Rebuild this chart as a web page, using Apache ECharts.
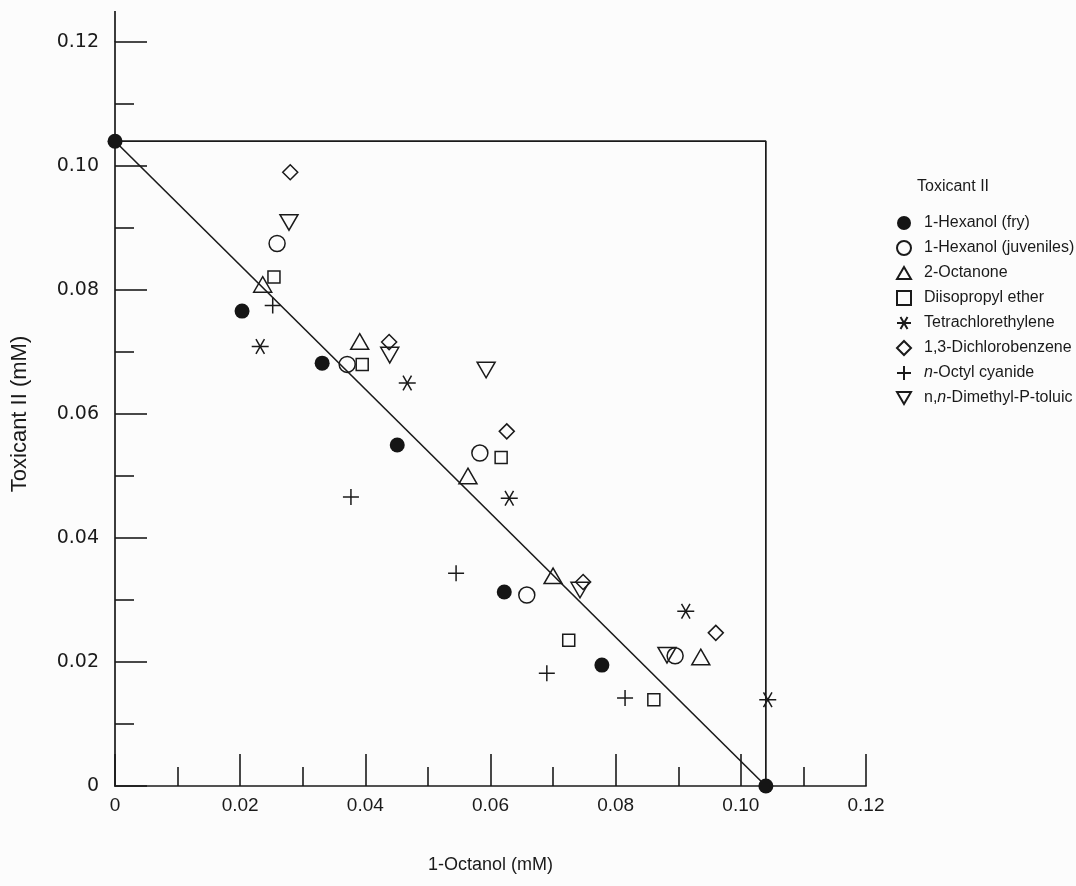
<!DOCTYPE html>
<html>
<head>
<meta charset="utf-8">
<title>Toxicant II vs 1-Octanol</title>
<script src="https://cdn.jsdelivr.net/npm/echarts@6/dist/echarts.min.js"></script>
<style>
  html, body { margin: 0; padding: 0; background: #fcfcfc; }
  #chart { width: 1076px; height: 886px; }
</style>
</head>
<body>
<div id="chart"></div>
<script>
'use strict';

// [1-Octanol mM, Toxicant II mM]
var hexanolFry = [[0.0203, 0.0766], [0.0331, 0.0682], [0.0451, 0.0550], [0.0622, 0.0313], [0.0778, 0.0195]];
var hexanolJuveniles = [[0.0259, 0.0875], [0.0371, 0.0680], [0.0583, 0.0537], [0.0658, 0.0308], [0.0895, 0.0210]];
var octanone = [[0.0236, 0.0809], [0.0391, 0.0717], [0.0564, 0.0500], [0.0700, 0.0339], [0.0936, 0.0208]];
var diisopropylEther = [[0.0254, 0.0821], [0.0395, 0.0680], [0.0617, 0.0530], [0.0725, 0.0235], [0.0861, 0.0139]];
var tetrachlorethylene = [[0.0232, 0.0709], [0.0467, 0.0650], [0.0630, 0.0464], [0.0912, 0.0282], [0.1043, 0.0139]];
var dichlorobenzene = [[0.0280, 0.0990], [0.0438, 0.0716], [0.0626, 0.0572], [0.0748, 0.0329], [0.0960, 0.0247]];
var octylCyanide = [[0.0252, 0.0775], [0.0377, 0.0466], [0.0545, 0.0343], [0.0690, 0.0182], [0.0815, 0.0142]];
var dimethylToluic = [[0.0278, 0.0909], [0.0439, 0.0695], [0.0593, 0.0671], [0.0743, 0.0316], [0.0882, 0.0211]];

// additivity line and its box
var isobole = [[0, 0.104], [0.104, 0]];
var isoboleBox = [[0, 0.104], [0.104, 0.104], [0.104, 0]];

var seriesNames = [
    '1-Hexanol (fry)', '1-Hexanol (juveniles)', '2-Octanone', 'Diisopropyl ether',
    'Tetrachlorethylene', '1,3-Dichlorobenzene', 'n-Octyl cyanide', 'n,n-Dimethyl-P-toluic'
];

var ink = '#1a1a1a';
var font = '"Liberation Sans", Arial, Helvetica, sans-serif';
var hollow = 'rgba(0,0,0,0)';

var myChart = echarts.init(document.getElementById('chart'));

function scatter(name, data, symbol, size, filled) {
    return {
        name: name,
        type: 'scatter',
        data: data,
        symbol: symbol,
        symbolSize: size,
        symbolKeepAspect: true,
        z: 5,
        itemStyle: {
            color: filled ? '#151515' : hollow,
            borderColor: ink,
            borderWidth: filled ? 0 : 1.5,
            opacity: 1
        }
    };
}

function axisLabelFmt(v) {
    if (v === 0) return '0';
    return v.toFixed(2);
}

var option = {
    backgroundColor: '#fcfcfc',
    animation: false,
    title: {
        text: 'Toxicant II',
        left: 912,
        top: 174,
        textStyle: { fontFamily: font, fontSize: 16, fontWeight: 'normal', color: ink }
    },
    legend: {
        orient: 'vertical',
        left: 891,
        top: 209,
        itemWidth: 14,
        itemHeight: 14,
        itemGap: 7,
        data: seriesNames,
        formatter: function (name) {
            if (name === 'n-Octyl cyanide') return '{i|n}-Octyl cyanide';
            if (name === 'n,n-Dimethyl-P-toluic') return 'n,{i|n}-Dimethyl-P-toluic';
            return name;
        },
        textStyle: {
            fontFamily: font, fontSize: 16, color: ink, lineHeight: 18, padding: [0, 0, 0, 8],
            rich: { i: { fontStyle: 'italic', fontFamily: font, fontSize: 16, color: ink } }
        }
    },
    grid: {
        left: 115,
        right: 210,
        top: 42,
        bottom: 100
    },
    xAxis: {
        type: 'value',
        min: 0,
        max: 0.12,
        interval: 0.02,
        name: '1-Octanol (mM)',
        nameLocation: 'middle',
        nameGap: 70,
        nameTextStyle: { fontFamily: font, fontSize: 18, color: ink },
        axisLine: { lineStyle: { color: ink, width: 1.7 } },
        axisTick: { inside: true, length: 32, lineStyle: { color: ink, width: 1.6 } },
        minorTick: { show: true, splitNumber: 2, length: 19, lineStyle: { color: ink, width: 1.6 } },
        splitLine: { show: false },
        axisLabel: { formatter: axisLabelFmt, margin: 10, fontFamily: font, fontSize: 19, color: ink }
    },
    yAxis: {
        type: 'value',
        min: 0,
        max: 0.12,
        interval: 0.02,
        name: 'Toxicant II (mM)',
        nameLocation: 'middle',
        nameGap: 84,
        nameTextStyle: { fontFamily: font, fontSize: 22, color: ink },
        axisLine: { lineStyle: { color: ink, width: 1.7 } },
        axisTick: { inside: true, length: 32, lineStyle: { color: ink, width: 1.6 } },
        minorTick: { show: true, splitNumber: 2, length: 19, lineStyle: { color: ink, width: 1.6 } },
        splitLine: { show: false },
        axisLabel: { formatter: axisLabelFmt, margin: 16, fontFamily: '"DejaVu Sans", sans-serif', fontSize: 19, color: ink }
    },
    series: [
        {
            name: 'box',
            type: 'line',
            data: isoboleBox,
            symbol: 'none',
            silent: true,
            z: 2,
            lineStyle: { color: ink, width: 1.7 }
        },
        {
            name: 'isobole',
            type: 'line',
            data: isobole,
            symbol: 'circle',
            symbolSize: 15,
            silent: true,
            clip: false,
            z: 3,
            itemStyle: { color: '#151515' },
            lineStyle: { color: ink, width: 1.6 }
        },
        scatter(seriesNames[0], hexanolFry, 'circle', 15, true),
        scatter(seriesNames[1], hexanolJuveniles, 'circle', 16, false),
        scatter(seriesNames[2], octanone, 'path://M5 0 L10 8.66 L0 8.66 Z', 18, false),
        scatter(seriesNames[3], diisopropylEther, 'rect', 12, false),
        scatter(seriesNames[4], tetrachlorethylene, 'path://M0 5 L10 5 M2.5 0.67 L7.5 9.33 M2.5 9.33 L7.5 0.67', 17, false),
        scatter(seriesNames[5], dichlorobenzene, 'diamond', 15, false),
        scatter(seriesNames[6], octylCyanide, 'path://M0 5 L10 5 M5 0 L5 10', 16, false),
        scatter(seriesNames[7], dimethylToluic, 'path://M0 0 L10 0 L5 8.66 Z', 18, false)
    ]
};

myChart.setOption(option);

// the y axis line runs a little past 0.12 in the original figure
var axisTop = myChart.convertToPixel({ gridIndex: 0 }, [0, 0.12]);
var axisEnd = myChart.convertToPixel({ gridIndex: 0 }, [0, 0.125]);
myChart.setOption({
    graphic: [{
        type: 'line',
        shape: { x1: axisTop[0], y1: axisTop[1], x2: axisEnd[0], y2: axisEnd[1] },
        style: { stroke: ink, lineWidth: 1.7 }
    }]
});
</script>
</body>
</html>
